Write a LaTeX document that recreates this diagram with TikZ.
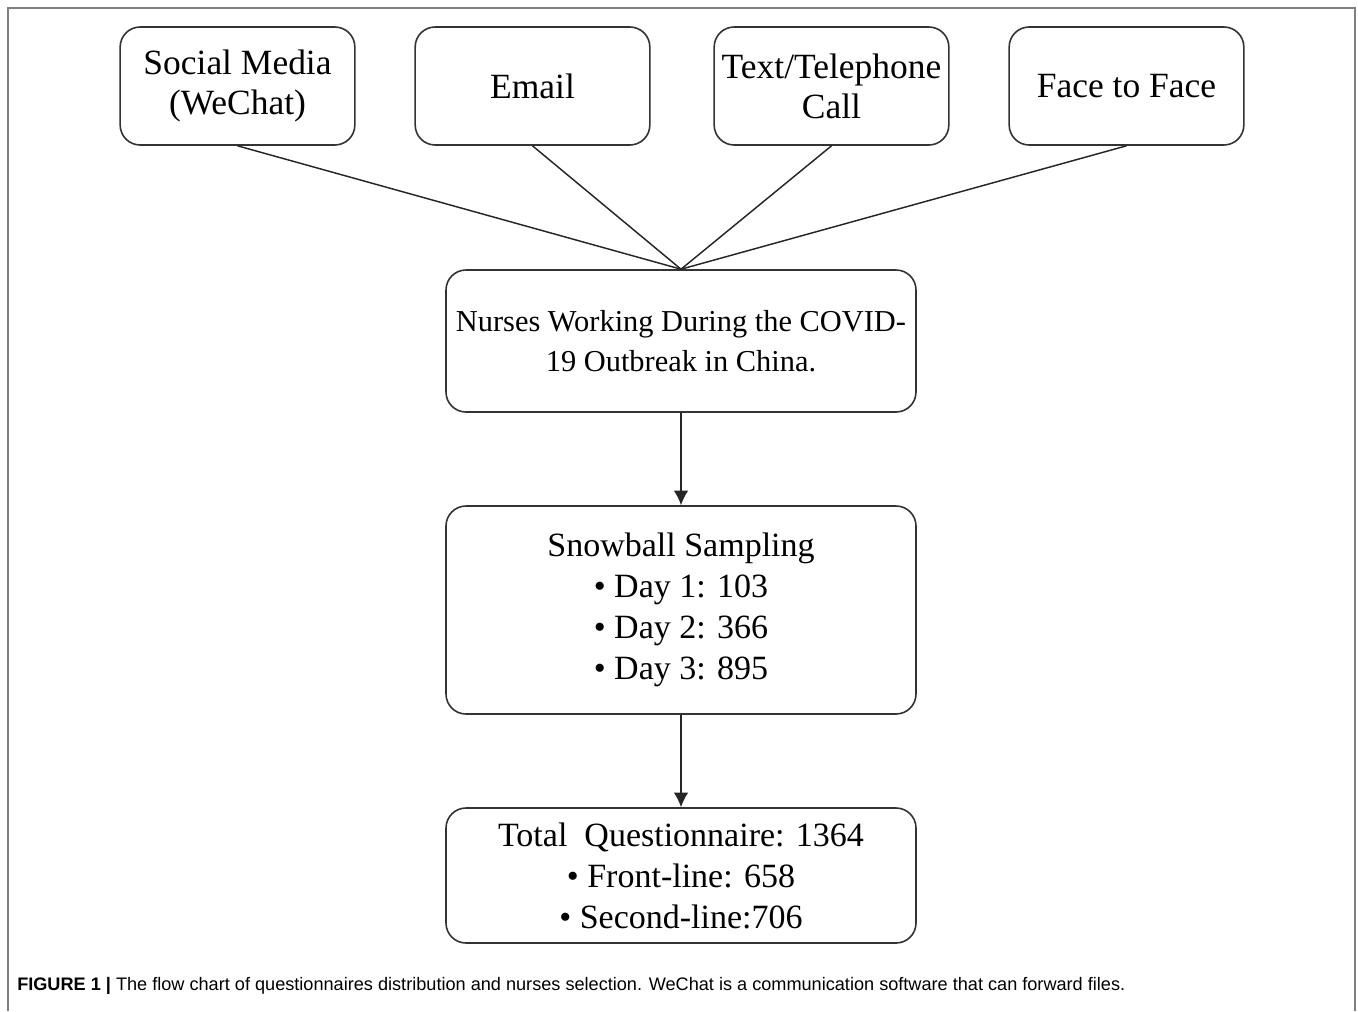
\documentclass[tikz,border=0pt]{standalone}
\usepackage{fontspec}
\setmainfont{Liberation Serif}
\newfontfamily\capfont{Liberation Sans}
\usetikzlibrary{arrows.meta,calc}
\tikzstyle{boxstyle}=[draw=black!80,line width=1.2pt,rounded corners=15pt,align=center,inner sep=0pt]
\tikzstyle{srcbox}=[boxstyle,minimum width=176pt,minimum height=88.5pt,font=\fontsize{26.6}{30}\selectfont]
\tikzstyle{bigbox}=[boxstyle,minimum width=352.5pt,font=\fontsize{25.5}{30.8}\selectfont]
\tikzstyle{linkstyle}=[black!85,line width=1.1pt]

\begin{document}
\begin{tikzpicture}[x=0.75pt,y=-0.75pt]

      % sizes are in pixels of the original picture, y goes down
      \def\xsrc{295} % horizontal distance between the source boxes
      \def\ymid{681} % x of the middle column

      \useasboundingbox (0,0) rectangle (1358,1011);
      % grey frame round the figure (open at the bottom)
      \draw[gray,line width=1.2pt] (8,1011) -- (8,8) -- (1355,8) -- (1355,1011);

      % Draw the source boxes
      \node[srcbox] at (237.5,86) (wechat) {Social Media\\(WeChat)};
      \node[srcbox] at (237.5+\xsrc,86) (email) {Email};
      \node[srcbox] at (237.5+2*\xsrc+4,86) (phone) {Text/Telephone\\Call};
      \node[srcbox] at (237.5+3*\xsrc+4,86) (face) {Face to Face};

      % Draw the middle column
      \node[bigbox,minimum height=106.5pt,font=\fontsize{22.8}{29.5}\selectfont] at (\ymid,341) (nurses) {Nurses Working During the COVID-\\19 Outbreak in China.};
      \node[bigbox,minimum height=156pt] at (\ymid,610) (snow) {Snowball Sampling\\• Day 1: 103\\• Day 2: 366\\• Day 3: 895};
      \node[bigbox,minimum height=101.25pt] at (\ymid,875.5) (total) {Total~~Questionnaire: 1364\\• Front-line: 658\\• Second-line:706};

      % Draw all wires
      % sources all meet at the top of the nurses box
      \draw[linkstyle] (wechat.south) -- (nurses.north);
      \draw[linkstyle] (email.south) -- (nurses.north);
      \draw[linkstyle] (phone.south) -- (nurses.north);
      \draw[linkstyle] (face.south) -- (nurses.north);
      % arrows down the column
      \draw[linkstyle,-{Latex[length=11pt,width=11pt]}] (nurses.south) -- (snow.north);
      \draw[linkstyle,-{Latex[length=11pt,width=11pt]}] (snow.south) -- (total.north);

      % Insert caption
      \node[anchor=base west,inner sep=0pt,font=\capfont\fontsize{13.6}{16}\selectfont] at (17,990) (caption) {\textbf{FIGURE 1} \textbf{|} The flow chart of questionnaires distribution and nurses selection. WeChat is a communication software that can forward files.};

   \end{tikzpicture}
\end{document}
